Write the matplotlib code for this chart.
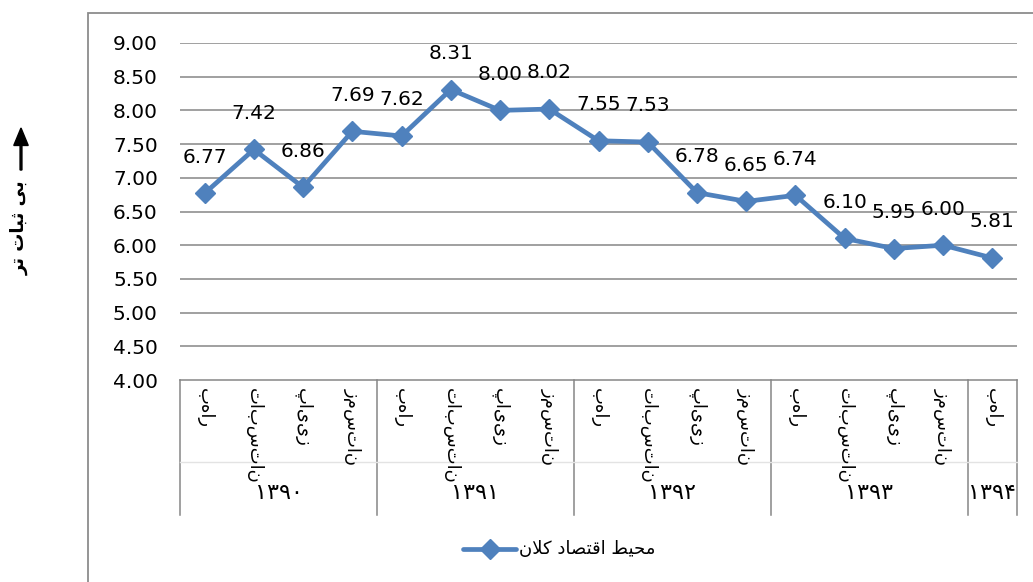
import matplotlib
matplotlib.use("Agg")
import matplotlib.pyplot as plt
import numpy as np
from matplotlib.patches import Rectangle, FancyArrow
from matplotlib.lines import Line2D
import matplotlib.transforms as mtrans

# ---------------- data ----------------
seasons = ['بهار', 'تابستان', 'پاییز', 'زمستان']
years = ['۱۳۹۰', '۱۳۹۱', '۱۳۹۲', '۱۳۹۳', '۱۳۹۴']
quarters_per_year = [4, 4, 4, 4, 1]
values = [6.77, 7.42, 6.86, 7.69, 7.62, 8.31, 8.00, 8.02,
          7.55, 7.53, 6.78, 6.65, 6.74, 6.10, 5.95, 6.00, 5.81]
series_name = 'محیط اقتصاد کلان'
y_label = 'بی ثبات تر'
y_ticks = [4.0, 4.5, 5.0, 5.5, 6.0, 6.5, 7.0, 7.5, 8.0, 8.5, 9.0]

# ---------------- simple Persian shaping for display ----------------
FORMS = {
    'ا': ('\uFE8D', '\uFE8E', None, None),
    'ب': ('\uFE8F', '\uFE90', '\uFE91', '\uFE92'),
    'پ': ('\uFB56', '\uFB57', '\uFB58', '\uFB59'),
    'ت': ('\uFE95', '\uFE96', '\uFE97', '\uFE98'),
    'ث': ('\uFE99', '\uFE9A', '\uFE9B', '\uFE9C'),
    'ح': ('\uFEA1', '\uFEA2', '\uFEA3', '\uFEA4'),
    'د': ('\uFEA9', '\uFEAA', None, None),
    'ر': ('\uFEAD', '\uFEAE', None, None),
    'ز': ('\uFEAF', '\uFEB0', None, None),
    'س': ('\uFEB1', '\uFEB2', '\uFEB3', '\uFEB4'),
    'ص': ('\uFEB9', '\uFEBA', '\uFEBB', '\uFEBC'),
    'ط': ('\uFEC1', '\uFEC2', '\uFEC3', '\uFEC4'),
    'ق': ('\uFED5', '\uFED6', '\uFED7', '\uFED8'),
    'ک': ('\uFB8E', '\uFB8F', '\uFB90', '\uFB91'),
    'ل': ('\uFEDD', '\uFEDE', '\uFEDF', '\uFEE0'),
    'م': ('\uFEE1', '\uFEE2', '\uFEE3', '\uFEE4'),
    'ن': ('\uFEE5', '\uFEE6', '\uFEE7', '\uFEE8'),
    'ه': ('\uFEE9', '\uFEEA', '\uFEEB', '\uFEEC'),
    'ی': ('\uFBFC', '\uFBFD', '\uFBFE', '\uFBFF'),
}


def dual(c):
    return c in FORMS and FORMS[c][2] is not None


def shape(text):
    out = []
    n = len(text)
    i = 0
    while i < n:
        c = text[i]
        prev = text[i - 1] if i > 0 else ' '
        nxt = text[i + 1] if i + 1 < n else ' '
        jp = dual(prev)
        if c == 'ل' and nxt == 'ا':
            out.append('\uFEFC' if jp else '\uFEFB')
            i += 2
            continue
        if c not in FORMS:
            out.append(c)
            i += 1
            continue
        jn = dual(c) and nxt in FORMS
        f = FORMS[c]
        if jp and jn:
            out.append(f[3])
        elif jp:
            out.append(f[1])
        elif jn:
            out.append(f[2])
        else:
            out.append(f[0])
        i += 1
    return ''.join(out[::-1])


# ---------------- figure ----------------
W, H = 1033, 582
fig = plt.figure(figsize=(W / 100, H / 100), dpi=100)
plt.rcParams['font.family'] = ['DejaVu Sans']

def fx(px):
    return px / W

def fy(py):
    return 1 - py / H

# chart area border
fig.patches.append(Rectangle((fx(88), fy(600)), 2, fy(13) - fy(600),
                             transform=fig.transFigure, fill=False,
                             edgecolor='#8c8c8c', lw=1.3))

L, R, T, B = 180, 1017, 43, 380
ax = fig.add_axes([fx(L), fy(B), fx(R) - fx(L), fy(T) - fy(B)])

blue = '#4F81BD'
x = np.arange(len(values))
ax.plot(x, values, color=blue, lw=3.4, marker='D', markersize=10,
        markerfacecolor=blue, markeredgecolor=blue, zorder=3,
        solid_joinstyle='round')

for xi, v in zip(x, values):
    ax.annotate(f'{v:.2f}', (xi, v), xytext=(0, 26), textcoords='offset points',
                ha='center', va='center', fontsize=14.5, color='black')

ax.set_xlim(-0.5, len(values) - 0.5)
ax.set_ylim(4, 9)
ax.set_yticks(y_ticks)
ax.set_yticklabels([f'{t:.2f}' for t in y_ticks], fontsize=14.5)
ax.tick_params(axis='y', length=0, pad=16)
ax.set_xticks([])
for t in y_ticks[1:]:
    ax.axhline(t, color='#868686', lw=1.1, zorder=1)
for s in ['top', 'right', 'left']:
    ax.spines[s].set_visible(False)
ax.spines['bottom'].set_color('#868686')
ax.spines['bottom'].set_linewidth(1.1)

# hierarchical category axis
tr = mtrans.blended_transform_factory(ax.transData, fig.transFigure)
y_top = fy(B)
y_bottom = fy(515)
bounds = [-0.5]
for q in quarters_per_year:
    bounds.append(bounds[-1] + q)
for bnd in bounds:
    fig.add_artist(Line2D([bnd, bnd], [y_top, y_bottom], transform=tr,
                          color='#868686', lw=1.1))
fig.add_artist(Line2D([-0.5, bounds[-1]], [fy(462), fy(462)], transform=tr,
                      color='#e3e3e3', lw=1.0))

k = 0
for yi, q in enumerate(quarters_per_year):
    for j in range(q):
        fig.text(k, fy(388), seasons[j], transform=tr, rotation=270,
                 ha='center', va='top', fontsize=13)
        k += 1
    mid = (bounds[yi] + bounds[yi + 1]) / 2
    fig.text(mid, fy(493), years[yi], transform=tr, ha='center',
             va='center', fontsize=16)

# y label with arrow
fig.add_artist(FancyArrow(fx(21), fy(170), 0, fy(128) - fy(170),
                          width=0.0018, head_width=0.014, head_length=0.03,
                          length_includes_head=True, transform=fig.transFigure,
                          color='black'))
fig.text(fx(20), fy(228), shape(y_label), rotation=90, ha='center',
         va='center', fontsize=13, fontweight='bold')

# legend
fig.add_artist(Line2D([fx(463), fx(516)], [fy(549), fy(549)],
                      transform=fig.transFigure, color=blue, lw=3.4,
                      solid_capstyle='round'))
fig.add_artist(Line2D([fx(489.5)], [fy(549)], transform=fig.transFigure,
                      marker='D', markersize=10, color=blue))
fig.text(fx(519), fy(549), shape(series_name), ha='left', va='center',
         fontsize=13)

fig.savefig('out.png', dpi=100)
